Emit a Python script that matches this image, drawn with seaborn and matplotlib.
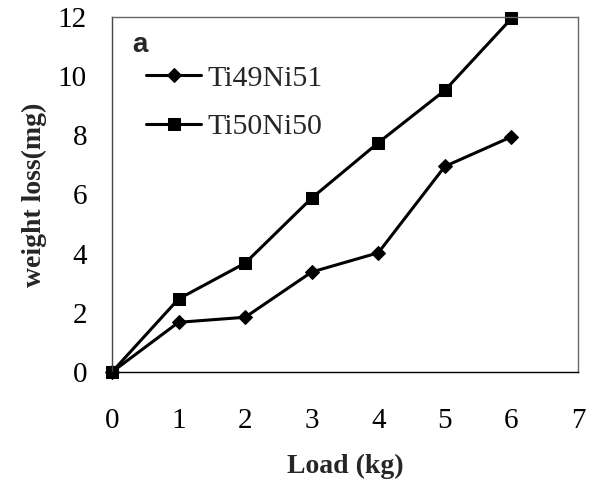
import matplotlib
matplotlib.use("Agg")
import matplotlib.pyplot as plt
import seaborn as sns
import pandas as pd

# Wear test results: weight loss against applied load
load_kg = [0, 1, 2, 3, 4, 5, 6]
ti49ni51 = [0, 1.68, 1.85, 3.38, 4.03, 6.95, 7.95]
ti50ni50 = [0, 2.47, 3.68, 5.88, 7.75, 9.52, 11.95]
series_names = ["Ti49Ni51", "Ti50Ni50"]
x_ticks = [0, 1, 2, 3, 4, 5, 6, 7]
y_ticks = [0, 2, 4, 6, 8, 10, 12]

df = pd.DataFrame({
    "load": load_kg * 2,
    "loss": ti49ni51 + ti50ni50,
    "alloy": [series_names[0]] * len(load_kg) + [series_names[1]] * len(load_kg),
})

sns.set_theme(style="white")
plt.rcParams["font.family"] = ["Liberation Serif", "DejaVu Serif"]

W, H = 592, 492
fig = plt.figure(figsize=(W / 100, H / 100), dpi=100)
ax = fig.add_axes([112 / W, 1 - 372 / H, (578 - 112) / W, (372 - 17) / H])

sns.lineplot(
    data=df, x="load", y="loss", hue="alloy", style="alloy",
    markers={"Ti49Ni51": "D", "Ti50Ni50": "s"}, dashes=False,
    palette={"Ti49Ni51": "black", "Ti50Ni50": "black"},
    linewidth=2.2, markeredgecolor="black",
    ax=ax, clip_on=False,
)
for line in ax.lines:
    line.set_markersize(7 if line.get_marker() == "D" else 8.8)

ax.set_xlim(0, 7)
ax.set_ylim(0, 12)
ax.set_xticks(x_ticks)
ax.set_yticks(y_ticks)
ax.tick_params(axis="both", direction="in", length=6, width=1, colors="#444444",
               labelcolor="black")
ax.tick_params(axis="x", pad=26, labelsize=21)
ax.tick_params(axis="y", pad=18, labelsize=21)
for s in ax.spines.values():
    s.set_color("#666666")
    s.set_linewidth(1)
ax.spines["bottom"].set_color("black")
ax.spines["left"].set_color("#444444")

ax.set_xlabel("Load (kg)", fontsize=20, fontweight="bold", labelpad=14)
ax.set_ylabel("weight loss(mg)", fontsize=20, fontweight="bold", labelpad=8)

leg = ax.legend(loc="upper left", bbox_to_anchor=(146 / W, 1 - 65 / H),
                bbox_transform=fig.transFigure, frameon=False, borderpad=0,
                borderaxespad=0, fontsize=21.5, handlelength=1.85,
                handletextpad=0.2, labelspacing=0.72)
for h in leg.legend_handles:
    h.set_linewidth(2.2)

fig.text(132 / W, 1 - 52 / H, "a", fontsize=20, fontweight="bold",
         family="Liberation Sans", va="baseline", ha="left")

fig.savefig("out.png", dpi=100)
